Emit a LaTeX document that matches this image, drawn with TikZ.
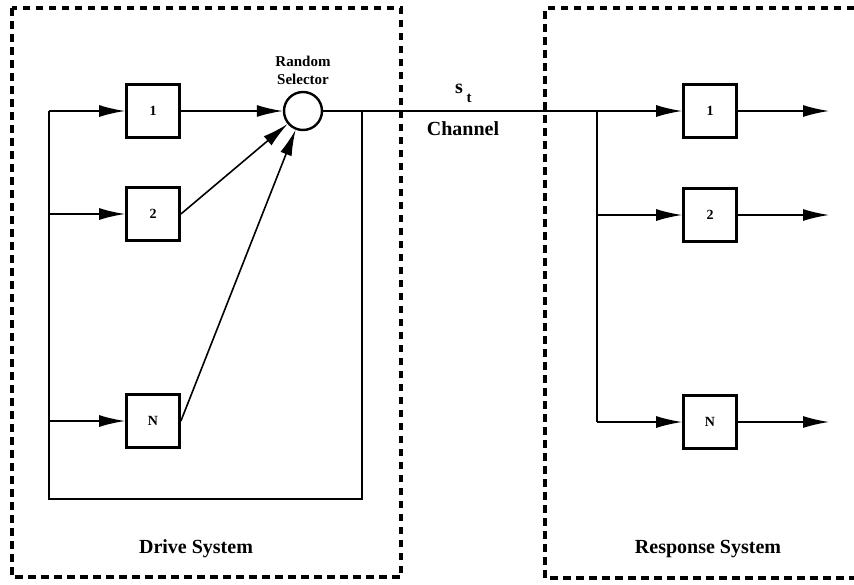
\documentclass[tikz,border=0pt]{standalone}
\usepackage{fontspec}
\setmainfont{Liberation Serif}
\usetikzlibrary{arrows.meta}
\tikzset{
  blk/.style={draw, line width=2.8pt, minimum width=53pt, minimum height=53pt, inner sep=0pt,
              font=\fontsize{14}{16}\selectfont\bfseries},
  sel/.style={draw, circle, line width=2.4pt, minimum size=38pt, inner sep=0pt},
  wire/.style={line width=1.6pt},
  arr/.style={wire, -{Latex[length=26pt,width=12pt]}},
  dashbox/.style={line width=3.6pt, dash pattern=on 7.5pt off 5.5pt},
  title/.style={font=\fontsize{20}{24}\selectfont\bfseries},
  small/.style={font=\fontsize{15}{18}\selectfont\bfseries, align=center}
}
\begin{document}
\begin{tikzpicture}[x=1pt,y=-1pt]
\useasboundingbox (0,0) rectangle (854,584);
\clip (0,0) rectangle (854,584);

% system enclosures
\draw[dashbox] (12,8) rectangle (401,577);
\draw[dashbox] (880,8) -- (545,8) -- (545,578) -- (880,578);

% drive system
\node[blk] (d1) at (153,111) {1};
\node[blk] (d2) at (153,214) {2};
\node[blk] (dN) at (153,421) {N};
\node[sel] (rs) at (303,111) {};
\node[small, anchor=base] (lab) at (303,84) {Random\\[0pt]Selector};

\coordinate (l1) at (49,111);
\coordinate (l2) at (49,214);
\coordinate (lN) at (49,421);
\coordinate (lb) at (49,499);
\coordinate (fb) at (362,499);
\coordinate (ft) at (362,111);

\draw[arr] (l1) -- (d1);
\draw[arr] (l2) -- (d2);
\draw[arr] (lN) -- (dN);
\draw[arr] (d1) -- (rs);
\draw[arr] (d2.east) -- (rs);
\draw[arr] (dN.east) -- (rs);
\draw[wire] (ft) -- (fb) -- (lb) -- (l1);

% response system
\node[blk] (r1) at (710,111) {1};
\node[blk] (r2) at (710,215) {2};
\node[blk] (rN) at (710,422) {N};
\coordinate (c1) at (597,111);
\coordinate (c2) at (597,215);
\coordinate (cN) at (597,422);
\coordinate (o1) at (829,111);
\coordinate (o2) at (829,215);
\coordinate (oN) at (829,422);

\draw[arr] (rs) -- (r1);
\draw[wire] (c1) -- (cN);
\draw[arr] (c2) -- (r2);
\draw[arr] (cN) -- (rN);
\draw[arr] (r1) -- (o1);
\draw[arr] (r2) -- (o2);
\draw[arr] (rN) -- (oN);

% channel labels
\node[title, anchor=base] (sig) at (459,93) {s};
\node[font=\fontsize{15}{18}\selectfont\bfseries, anchor=base] (sub) at (469,102) {t};
\node[title, anchor=base] (ch) at (463,135) {Channel};

\node[title, anchor=base] (drv) at (196,553) {Drive System};
\node[title, anchor=base] (rsp) at (708,553) {Response System};
\end{tikzpicture}
\end{document}
